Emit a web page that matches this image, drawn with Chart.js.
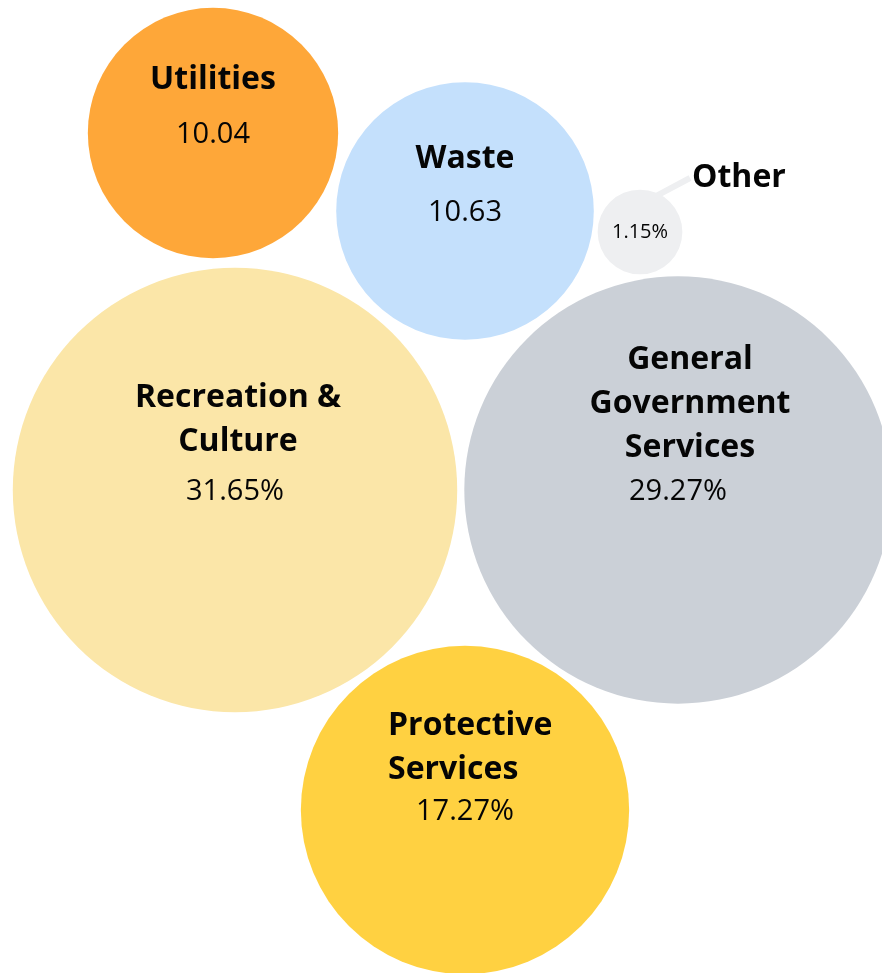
<!DOCTYPE html>
<html>
<head>
<meta charset="utf-8">
<script src="https://cdn.jsdelivr.net/npm/chart.js@4.4.1/dist/chart.umd.min.js"></script>
<style>
    html, body { margin: 0; padding: 0; background: #ffffff; }
    #wrap { width: 882px; height: 973px; position: relative; }
</style>
</head>
<body>
<div id="wrap"><canvas id="bubbleChart"></canvas></div>
<script>
// ── Data ───────────────────────────────────────────────────────────────────
const categories  = ['Utilities', 'Waste', 'Other', 'Recreation & Culture', 'General Government Services', 'Protective Services'];
const shares      = [10.04, 10.63, 1.15, 31.65, 29.27, 17.27];
const valueLabels = ['10.04', '10.63', '1.15%', '31.65%', '29.27%', '17.27%'];
const labelLines  = [['Utilities'], ['Waste'], ['Other'], ['Recreation &', 'Culture'], ['General', 'Government', 'Services'], ['Protective', 'Services']];
// packed layout centres (hidden axis units)
const centerX     = [213, 465, 640, 235, 678, 465];
const centerY     = [133, 211, 232, 490, 490, 810];

// ── Styles ─────────────────────────────────────────────────────────────────
const COLORS   = ['#FEA739', '#C4E0FC', '#EEEFF1', '#FBE6A8', '#CBD0D7', '#FFD141'];
const RADIUS_K = 39.5;               // px per sqrt(percent)
const FONT     = "'Open Sans', 'Noto Sans', sans-serif";
const LABEL = [
    { gap: 53, dx: 0,   align: 'center' },
    { gap: 52, dx: 0,   align: 'center' },
    { outside: true, dx: 52, dy: -54 },
    { gap: 48, dx: 3,   align: 'center' },
    { gap: 42, dx: 12,  align: 'center' },
    { gap: 40, dx: -77, align: 'left' },
];

const points = categories.map((c, i) => ({
    x: centerX[i],
    y: centerY[i],
    r: RADIUS_K * Math.sqrt(shares[i]),
}));

// ── Label plugin ───────────────────────────────────────────────────────────
const bubbleLabels = {
    id: 'bubbleLabels',
    afterDatasetsDraw(chart) {
        const ctx  = chart.ctx;
        const meta = chart.getDatasetMeta(0);
        ctx.save();
        ctx.fillStyle = '#050505';
        ctx.textBaseline = 'middle';
        meta.data.forEach((el, i) => {
            const { x, y } = el.getProps(['x', 'y'], true);
            const r   = points[i].r;
            const cfg = LABEL[i];
            if (cfg.outside) {
                const a  = -67 * Math.PI / 180;
                const tx = x + cfg.dx, ty = y + cfg.dy;
                ctx.strokeStyle = COLORS[i];
                ctx.lineWidth = 6;
                ctx.beginPath();
                ctx.moveTo(x + Math.cos(a) * (r - 4), y + Math.sin(a) * (r - 4));
                ctx.lineTo(tx - 2, ty);
                ctx.stroke();
                ctx.font = `bold 32px ${FONT}`;
                ctx.textAlign = 'left';
                ctx.fillText(labelLines[i][0], tx, ty);
                ctx.font = `20px ${FONT}`;
                ctx.textAlign = 'center';
                ctx.fillText(valueLabels[i], x, y);
                return;
            }
            ctx.font = `bold 32px ${FONT}`;
            ctx.textAlign = cfg.align;
            const lines = labelLines[i];
            lines.forEach((ln, j) => {
                const ly = y - cfg.gap - (lines.length - 1 - j) * 44;
                ctx.fillText(ln, x + cfg.dx, ly);
            });
            ctx.font = `29px ${FONT}`;
            ctx.textAlign = 'center';
            ctx.fillText(valueLabels[i], x, y + 2);
        });
        ctx.restore();
    },
};

// ── Chart ──────────────────────────────────────────────────────────────────
new Chart(document.getElementById('bubbleChart').getContext('2d'), {
    type: 'bubble',
    data: {
        labels: categories,
        datasets: [{
            data: points,
            backgroundColor: COLORS,
            borderWidth: 0,
            hoverRadius: 0,
            clip: false,
        }],
    },
    options: {
        responsive: true,
        maintainAspectRatio: false,
        animation: false,
        layout: { padding: 0, autoPadding: false },
        plugins: {
            legend: { display: false },
            tooltip: { enabled: false },
        },
        scales: {
            x: { type: 'linear', min: 0, max: 882, display: false },
            y: { type: 'linear', min: 0, max: 973, reverse: true, display: false },
        },
    },
    plugins: [bubbleLabels],
});
</script>
</body>
</html>
